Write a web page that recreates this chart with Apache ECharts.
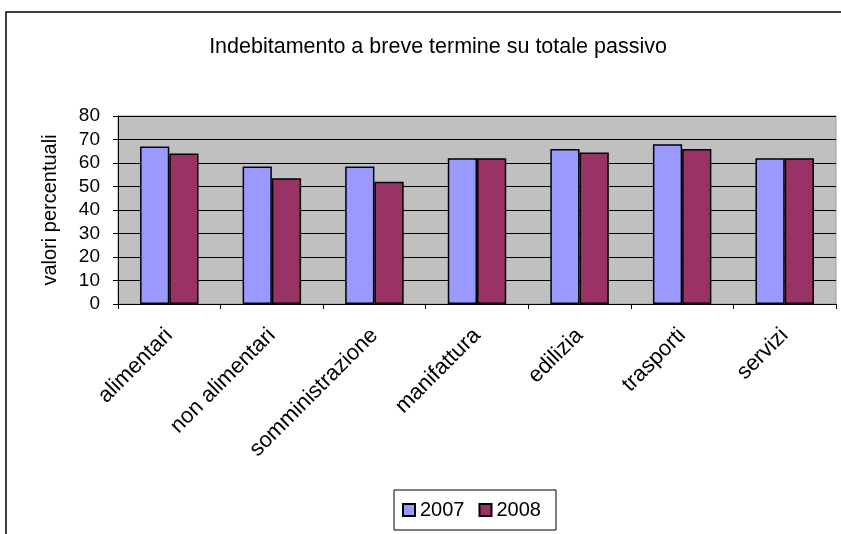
<!DOCTYPE html>
<head>
    <meta charset="UTF-8">
    <title>Indebitamento a breve termine su totale passivo</title>
    <script src="https://cdn.jsdelivr.net/npm/echarts@6/dist/echarts.min.js"></script>
</head>
<body style="margin:0">
<div id="chart" style="height:534px;width:841px;"></div>
<script type="text/javascript">
    var settori = ['alimentari', 'non alimentari', 'somministrazione', 'manifattura', 'edilizia', 'trasporti', 'servizi'];
    var anno2007 = [67, 58.5, 58.5, 62, 66, 68, 62];
    var anno2008 = [64, 53.5, 52, 62, 64.5, 66, 62];

    var myChart = echarts.init(document.getElementById('chart'));
    var font = 'Liberation Sans, Arial, sans-serif';

    myChart.setOption({
        animation: false,
        backgroundColor: '#fff',
        textStyle: {fontFamily: font, color: '#000'},
        title: {
            text: 'Indebitamento a breve termine su totale passivo',
            left: 433, top: 31, textAlign: 'center',
            textStyle: {fontSize: 21.5, fontWeight: 'normal', color: '#000', fontFamily: font}
        },
        // cornice del grafico
        graphic: [{
            type: 'rect', z: 100, silent: true,
            shape: {x: 6, y: 12, width: 900, height: 600},
            style: {fill: 'none', stroke: '#000', lineWidth: 1.5}
        }],
        grid: {
            left: 118, right: 5, top: 116, bottom: 230,
            show: true, backgroundColor: '#C0C0C0', borderColor: '#999', borderWidth: 1
        },
        legend: {
            data: ['2007', '2008'],
            left: 394, top: 490,
            padding: [10, 15, 10, 8], itemGap: 14,
            borderColor: '#000', borderWidth: 1,
            icon: 'rect', itemWidth: 12, itemHeight: 12,
            textStyle: {fontSize: 20, color: '#000', fontFamily: font}
        },
        xAxis: {
            type: 'category',
            data: settori,
            axisLine: {lineStyle: {color: '#000', width: 1}},
            axisTick: {show: true, length: 5, lineStyle: {color: '#000'}},
            axisLabel: {rotate: 45, interval: 0, fontSize: 22, color: '#000', margin: 28, fontFamily: font}
        },
        yAxis: {
            type: 'value',
            min: 0, max: 80, interval: 10,
            name: 'valori percentuali',
            nameLocation: 'middle', nameGap: 58, nameRotate: 90,
            nameTextStyle: {fontSize: 20, color: '#000', fontFamily: font},
            axisLine: {show: true, lineStyle: {color: '#000', width: 1}},
            axisTick: {show: true, length: 5, lineStyle: {color: '#000'}},
            axisLabel: {fontSize: 19, color: '#000', margin: 18, fontFamily: font},
            splitLine: {lineStyle: {color: '#000', width: 1}}
        },
        series: [
            {
                name: '2007', type: 'bar', data: anno2007,
                barGap: '0%', barCategoryGap: '43%',
                itemStyle: {color: '#9999FF', borderColor: '#000', borderWidth: 1.5}
            },
            {
                name: '2008', type: 'bar', data: anno2008,
                itemStyle: {color: '#993366', borderColor: '#000', borderWidth: 1.5}
            }
        ]
    });
</script>
</body>
</html>
